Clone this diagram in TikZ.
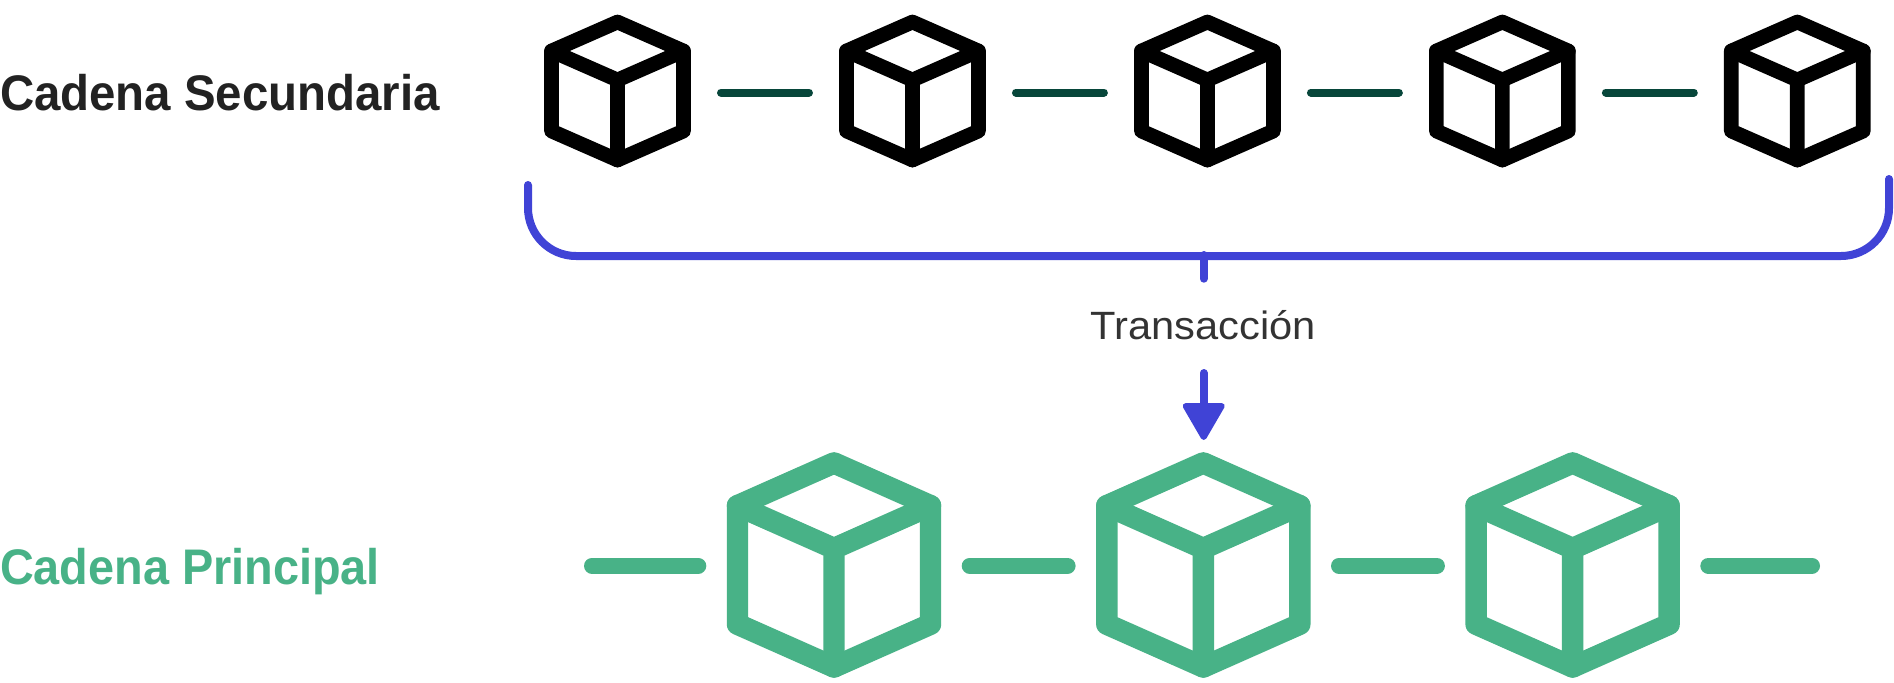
\documentclass[tikz,border=0pt]{standalone}
\usepackage{graphicx}
\usepackage{fontspec}
\setmainfont{Liberation Sans}
\definecolor{teallink}{HTML}{07463A}
\definecolor{bluelink}{HTML}{4043D6}
\definecolor{greenmain}{HTML}{48B287}
\definecolor{darktext}{HTML}{222222}
\definecolor{midtext}{HTML}{333333}
\tikzset{
  anchorbox/.style={inner sep=0pt,outer sep=0pt,minimum height=1pt},
  smallbox/.style={anchorbox,minimum width=155.25pt},
  bigbox/.style={anchorbox,minimum width=203.55pt},
  smalllink/.style={draw=teallink,line width=6pt,line cap=round},
  biglink/.style={draw=greenmain,line width=12pt,line cap=round},
  bluestroke/.style={draw=bluelink,line width=6pt,line cap=round},
  label/.style={inner sep=0pt,outer sep=0pt,anchor=base west},
  smallcube/.pic={
    \draw[black,line width=11pt,line join=round]
      (0,-70.5)--(66,-41.5)--(66,38.5)--(0,67.5)--(-66,38.5)--(-66,-41.5)--cycle;
    \draw[black,line width=11pt,line join=round,line cap=round]
      (-66,-41.5)--(0,-12.5)--(66,-41.5) (0,-12.5)--(0,67.5);
  },
  bigcube/.pic={
    \draw[greenmain,line width=16.1pt,line join=round]
      (0,-102.8)--(96.5,-60)--(96.5,58.5)--(0,101.3)--(-96.5,58.5)--(-96.5,-60)--cycle;
    \draw[greenmain,line width=16.1pt,line join=round,line cap=round]
      (-96.5,-60)--(0,-17.2)--(96.5,-60) (0,-17.2)--(0,101.3);
  }
}
\begin{document}
\begin{tikzpicture}[x=0.75pt,y=-0.75pt]
\useasboundingbox (0,0) rectangle (1894,682);
\fill[white] (0,0) rectangle (1894,682);
% labels
\node[label,text=darktext] (lblS) at (0,110.7) {\resizebox{330pt}{\height}{\fontsize{37.5}{40}\selectfont\bfseries Cadena Secundaria}};
\node[label,text=greenmain] (lblP) at (0,584.3) {\resizebox{285pt}{\height}{\fontsize{37.5}{40}\selectfont\bfseries Cadena Principal}};
\node[label,text=midtext] (lblT) at (1090.7,339) {\resizebox{169pt}{\height}{\fontsize{29.6}{32}\selectfont Transacción}};
% secondary chain
\foreach \n/\x in {1/617.5,2/912.45,3/1207.4,4/1502.35,5/1797.3}{
  \node[smallbox] (s\n) at (\x,92.5) {};
  \pic at (s\n.center) {smallcube};
}
\foreach \a/\b in {1/2,2/3,3/4,4/5}{
  \draw[smalllink] (s\a.east) -- (s\b.west);
}
% main chain
\foreach \n/\x in {1/834,2/1203.3,3/1572.6}{
  \node[bigbox] (p\n) at (\x,565.7) {};
  \pic at (p\n.center) {bigcube};
}
\coordinate (pstart) at (592,565.7);
\coordinate (pend) at (1812,565.7);
\draw[biglink] (pstart) -- (p1.west);
\draw[biglink] (p1.east) -- (p2.west);
\draw[biglink] (p2.east) -- (p3.west);
\draw[biglink] (p3.east) -- (pend);
% bracket
\coordinate (bl) at (528,185);
\coordinate (bbl) at (528,256);
\coordinate (bbr) at (1889,256);
\coordinate (br) at (1889,179);
\coordinate (stemtop) at (1203.7,255);
\coordinate (stemend) at (1203.7,278.7);
\draw[bluestroke,rounded corners=36pt] (bl) -- (bbl) -- (bbr) -- (br);
\draw[bluestroke] (stemtop) -- (stemend);
% arrow
\coordinate (arrowtop) at (1203.7,373);
\coordinate (arrowbase) at (1203.7,406);
\draw[bluestroke] (arrowtop) -- (arrowbase);
\draw[bluelink,fill=bluelink,line width=4.5pt,line join=round]
  (1185.7,406) -- (1221.7,406) -- (1203.7,437) -- cycle;
\end{tikzpicture}
\end{document}
